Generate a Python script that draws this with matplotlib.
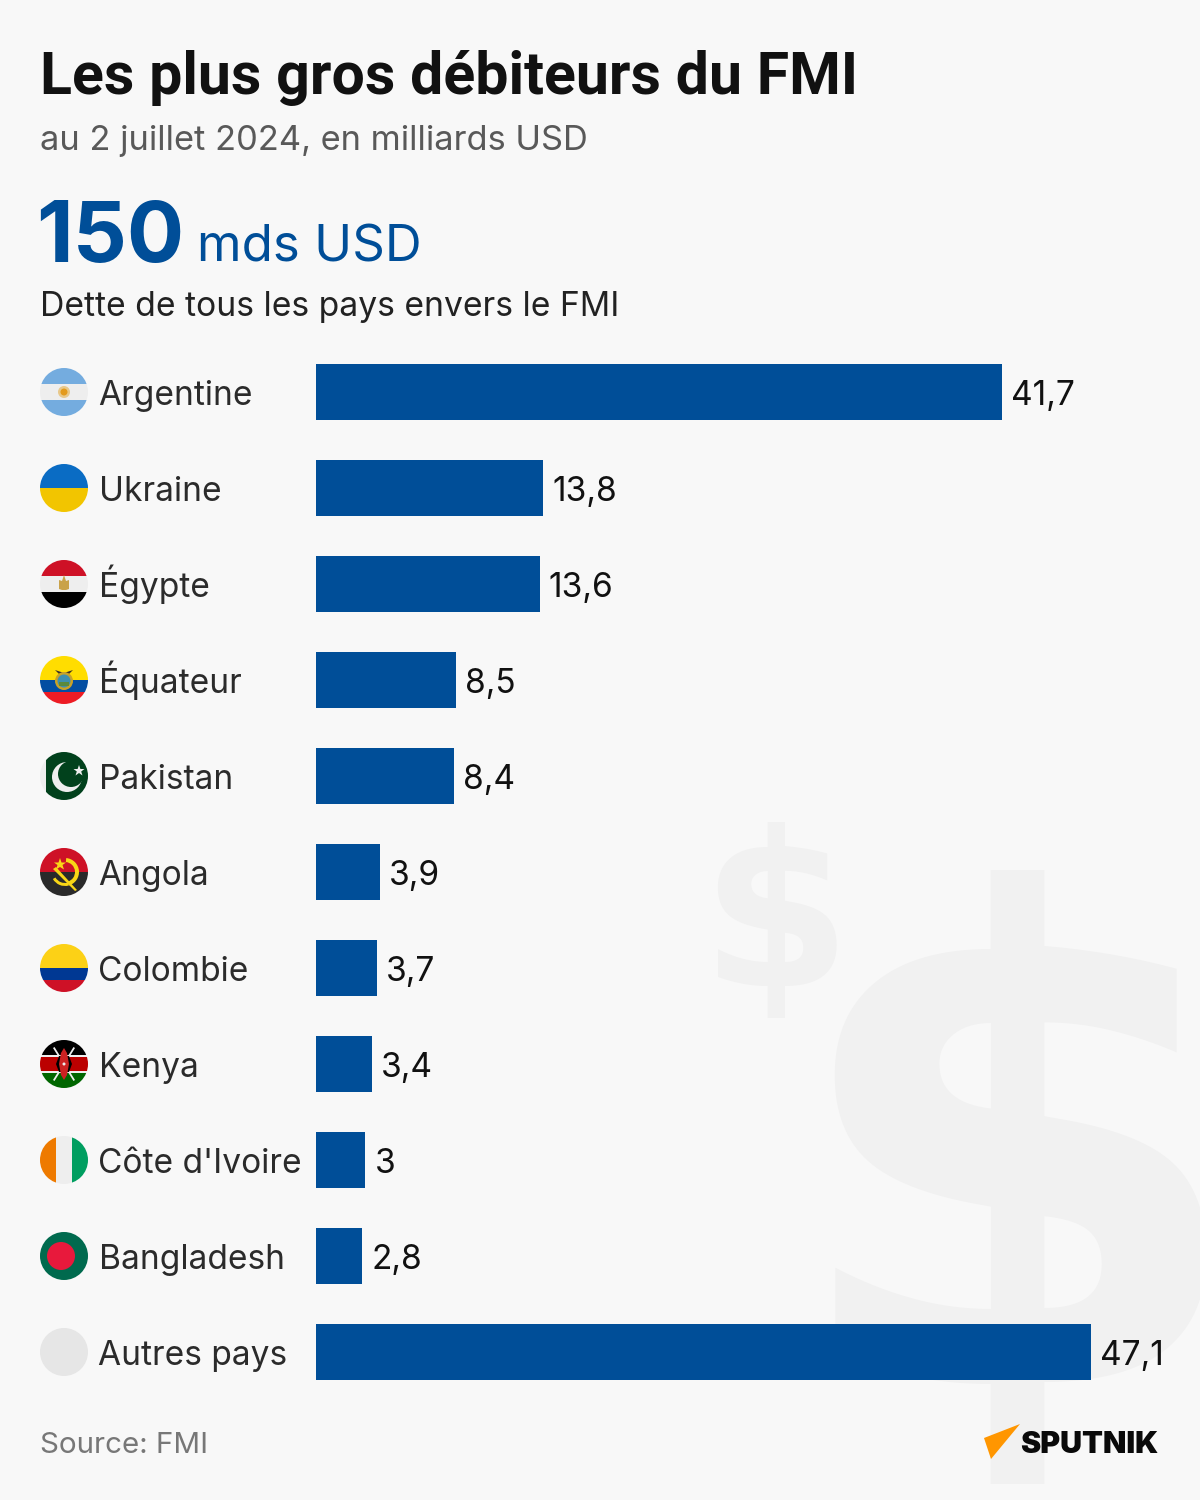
import matplotlib
matplotlib.use("Agg")
import matplotlib.pyplot as plt
from matplotlib.patches import Circle, Rectangle, Polygon, Wedge

countries = ["Argentine", "Ukraine", "Égypte", "Équateur", "Pakistan", "Angola",
             "Colombie", "Kenya", "Côte d'Ivoire", "Bangladesh", "Autres pays"]
values = [41.7, 13.8, 13.6, 8.5, 8.4, 3.9, 3.7, 3.4, 3.0, 2.8, 47.1]
value_labels = ["41,7", "13,8", "13,6", "8,5", "8,4", "3,9", "3,7", "3,4", "3", "2,8", "47,1"]
title = "Les plus gros débiteurs du FMI"
subtitle = "au 2 juillet 2024, en milliards USD"
big_number = "150"
big_unit = "mds USD"
big_caption = "Dette de tous les pays envers le FMI"
source = "Source: FMI"
logo = "SPUTNIK"

BG = "#f8f8f8"
BLUE = "#004e98"
FONT = "Inter"
W, H = 1200, 1500
pt = 0.72

fig = plt.figure(figsize=(12, 15), dpi=100, facecolor=BG)
page = fig.add_axes([0, 0, 1, 1])
page.set_xlim(0, W)
page.set_ylim(H, 0)
page.axis("off")

# watermark dollars
page.text(775, 986, "$", fontsize=216*pt, family="DejaVu Sans", weight="bold", color="#f1f1f1",
          ha="center", va="baseline", zorder=0)
page.text(1016, 1384, "$", fontsize=676*pt, family="DejaVu Sans", weight="bold", color="#f1f1f1",
          ha="center", va="baseline", zorder=0, clip_on=True)

# texts
page.text(40, 94, title, fontsize=59*pt, family="Roboto", weight="bold", color="#111111", va="baseline")
page.text(40, 150, subtitle, fontsize=34.4*pt, family=FONT, color="#595959", va="baseline")
page.text(36, 262, big_number, fontsize=85*pt, family=FONT, weight="bold", color=BLUE, va="baseline")
page.text(197, 262, big_unit, fontsize=51*pt, family=FONT, color=BLUE, va="baseline")
page.text(40, 316, big_caption, fontsize=33.7*pt, family=FONT, color="#222222", va="baseline")
page.text(40, 1453, source, fontsize=29.5*pt, family=FONT, color="#777777", va="baseline")

# logo
page.add_patch(Polygon([(984, 1438), (1020, 1424), (991, 1459)], closed=True, color="#ff9600", lw=0))
page.text(1020, 1453, logo, fontsize=30.5*pt, family="Inter", weight="black", color="#0a0a0a", va="baseline")

# bars
ax = fig.add_axes([316/W, 1-1400/H, (1200-316)/W, (1400-344)/H])
ax.set_xlim(0, (1200-316)/16.46)
ax.set_ylim(10.5, -0.5)
ax.axis("off")
ys = list(range(len(values)))
ax.barh(ys, values, height=56/96, color=BLUE, lw=0)
for y, v, lab, name in zip(ys, values, value_labels, countries):
    ax.annotate(lab, (v, y), xytext=(9, -13), textcoords="offset pixels",
                fontsize=33.5*pt, family=FONT, color="#111111", va="baseline", ha="left")
    page.text(98.5, 405+96*y, name, fontsize=33.5*pt, family=FONT, color="#2b2b2b", va="baseline", ha="left")


def flag(y, draw):
    cx, cy, r = 64, 392 + 96*y, 24
    clip = Circle((cx, cy), r, transform=page.transData)
    def rect(x0, y0, x1, y1, c):
        p = Rectangle((cx+x0, cy+y0), x1-x0, y1-y0, color=c, lw=0)
        page.add_patch(p); p.set_clip_path(clip)
    def circ(dx, dy, rad, c):
        p = Circle((cx+dx, cy+dy), rad, color=c, lw=0)
        page.add_patch(p); p.set_clip_path(clip)
    def poly(pts, c):
        p = Polygon([(cx+a, cy+b) for a, b in pts], closed=True, color=c, lw=0)
        page.add_patch(p); p.set_clip_path(clip)
    draw(rect, circ, poly)


def argentina(r, c, p):
    r(-24, -24, 24, -8, "#74acdf"); r(-24, -8, 24, 8, "#eeeeee"); r(-24, 8, 24, 24, "#74acdf")
    c(0, 0, 6, "#e8c88a"); c(0, 0, 3.5, "#e39a1c")
def ukraine(r, c, p):
    r(-24, -24, 24, 0, "#0a6cc4"); r(-24, 0, 24, 24, "#f2c500")
def egypt(r, c, p):
    r(-24, -24, 24, -8, "#ce1126"); r(-24, -8, 24, 8, "#eeeeee"); r(-24, 8, 24, 24, "#000000")
    p([(-5, -4), (-2, -3), (0, -9), (2, -3), (5, -4), (5, 5), (2, 6), (-2, 6), (-5, 5)], "#c9a24a")
def ecuador(r, c, p):
    r(-24, -24, 24, 0, "#ffdd00"); r(-24, 0, 24, 12, "#034ea2"); r(-24, 12, 24, 24, "#ed1c24")
    p([(-9, -10), (0, -7), (9, -10), (3, -4), (-3, -4)], "#3a3028")
    c(0, 1, 9, "#c9a227"); c(0, 1, 6.5, "#3f8fae"); r(-5, 2, 5, 6, "#5a8a3c")
def pakistan(r, c, p):
    r(-24, -24, -18, 24, "#eeeeee"); r(-18, -24, 24, 24, "#01411c")
    c(3, 1, 15, "#eeeeee"); c(7, -2, 13, "#01411c")
    p([(15, -11), (16.4, -7), (20.5, -7), (17.2, -4.5), (18.5, -0.5), (15, -3), (11.5, -0.5), (12.8, -4.5), (9.5, -7), (13.6, -7)], "#eeeeee")
def angola(r, c, p):
    r(-24, -24, 24, 0, "#ce1126"); r(-24, 0, 24, 24, "#2a2a2a")
    page.add_patch(Wedge((65, 872), 14, -85, 75, width=4, color="#f9d616", lw=0))
    page.add_patch(Wedge((65, 872), 14, 75, 150, width=3, color="#f9d616", lw=0))
    p([(-11, -3), (-8, -5), (13, 18), (11, 19)], "#f9d616")
    p([(-4, -14), (-2.5, -9.5), (2, -9.5), (-1.5, -7), (0, -2.5), (-4, -5), (-8, -2.5), (-6.5, -7), (-10, -9.5), (-5.5, -9.5)], "#f9d616")
def colombia(r, c, p):
    r(-24, -24, 24, 0, "#fcd116"); r(-24, 0, 24, 12, "#003893"); r(-24, 12, 24, 24, "#ce1126")
def kenya(r, c, p):
    r(-24, -24, 24, -9, "#000000"); r(-24, -9, 24, -7, "#eeeeee"); r(-24, -7, 24, 7, "#bb0000")
    r(-24, 7, 24, 9, "#eeeeee"); r(-24, 9, 24, 24, "#006600")
    p([(-11, -16), (-9.5, -17), (11, 16), (9.5, 17)], "#eeeeee")
    p([(11, -16), (9.5, -17), (-11, 16), (-9.5, 17)], "#eeeeee")
    p([(-8, 0), (-5, -8), (5, -8), (8, 0), (5, 8), (-5, 8)], "#000000")
    p([(-5, 0), (-3, -11), (0, -16), (3, -11), (5, 0), (3, 11), (0, 16), (-3, 11)], "#cc2222")
    c(0, 0, 1.5, "#eeeeee")
def ivory(r, c, p):
    r(-24, -24, -8, 24, "#ee7a00"); r(-8, -24, 8, 24, "#eeeeee"); r(8, -24, 24, 24, "#009e60")
def bangladesh(r, c, p):
    r(-24, -24, 24, 24, "#006a4e"); c(-3, 0, 14, "#e8193c")
def other(r, c, p):
    r(-24, -24, 24, 24, "#e6e6e6")

for i, d in enumerate([argentina, ukraine, egypt, ecuador, pakistan, angola, colombia, kenya, ivory, bangladesh, other]):
    flag(i, d)

fig.savefig("out.png", dpi=100, facecolor=BG)
